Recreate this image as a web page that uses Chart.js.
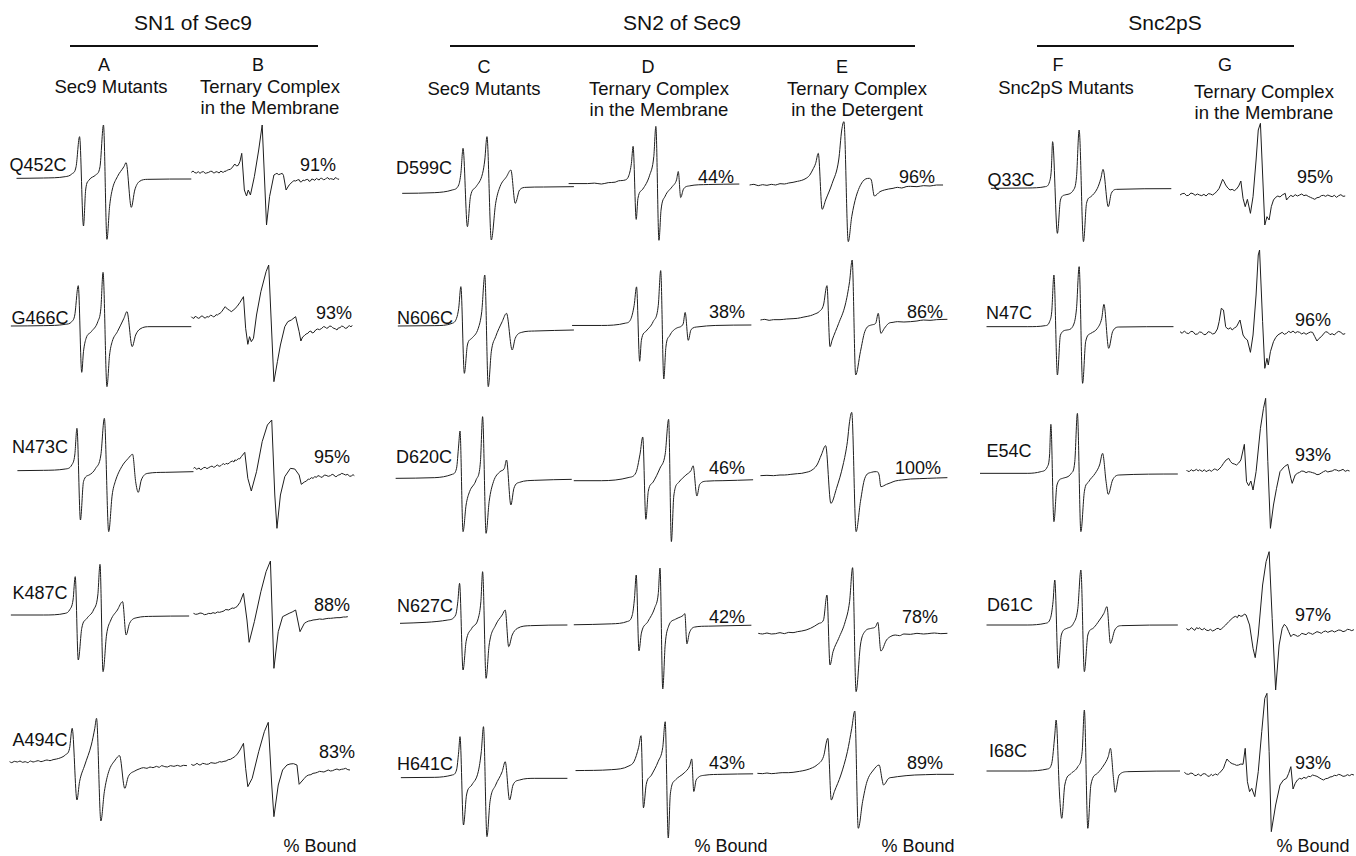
<!DOCTYPE html>
<html>
<head>
<meta charset="utf-8">
<title>EPR spectra of Sec9 and Snc2pS spin-labelled mutants</title>
<script src="https://cdn.jsdelivr.net/npm/chart.js@4.4.1/dist/chart.umd.min.js"></script>
<style>
  html, body { margin: 0; padding: 0; background: #fff; }
  #fig { position: relative; width: 1356px; height: 856px; overflow: hidden;
         font-family: "Liberation Sans", Arial, Helvetica, sans-serif; color: #111; }
  .t { position: absolute; transform: translate(-50%, -50%); white-space: nowrap; line-height: 1; }
  .rule { position: absolute; height: 2px; background: #111; }
  canvas.spec { position: absolute; }
</style>
</head>
<body>
<div id="fig"></div>
<script>
// ---------------- headings and labels ----------------
const groupTitles = ['SN1 of Sec9', 'SN2 of Sec9', 'Snc2pS'];
const panelLetters = ['A', 'B', 'C', 'D', 'E', 'F', 'G'];
const panelCaptions = [
  ['Sec9 Mutants'],
  ['Ternary Complex', 'in the Membrane'],
  ['Sec9 Mutants'],
  ['Ternary Complex', 'in the Membrane'],
  ['Ternary Complex', 'in the Detergent'],
  ['Snc2pS Mutants'],
  ['Ternary Complex', 'in the Membrane']
];
const sn1Mutants = ['Q452C', 'G466C', 'N473C', 'K487C', 'A494C'];
const sn2Mutants = ['D599C', 'N606C', 'D620C', 'N627C', 'H641C'];
const snc2Mutants = ['Q33C', 'N47C', 'E54C', 'D61C', 'I68C'];
const boundSN1Membrane = [91, 93, 95, 88, 83];
const boundSN2Membrane = [44, 38, 46, 42, 43];
const boundSN2Detergent = [96, 86, 100, 78, 89];
const boundSnc2Membrane = [95, 96, 93, 97, 93];
const boundCaption = '% Bound';

// ---------------- spectra: [field, derivative intensity] ----------------
// Column A: Sec9 SN1 mutants, free
const sn1_Q452C = [[38,-1],[100,0],[150,4],[165,12],[175,34],[183,124],[192,-144],[197,-36],[205,-6],[220,9],[230,34],[238,159],[246,-184],[252,-86],[258,-36],[270,4],[285,34],[290,46],[302,-88],[310,-36],[320,-11],[340,-4],[440,-3]];
const sn1_G466C = [[25,-3],[100,-2],[150,2],[165,10],[172,30],[180,118],[188,-142],[192,-80],[198,-40],[210,-20],[225,10],[232,50],[237,158],[246,-185],[252,-90],[258,-50],[270,-20],[285,20],[292,40],[304,-65],[312,-30],[322,-12],[345,-5],[440,-5]];
const sn1_N473C = [[40,-2],[100,-1],[150,3],[165,15],[172,45],[177,125],[185,-150],[192,-35],[205,-15],[220,5],[232,45],[240,155],[250,-185],[258,-75],[265,-35],[280,10],[295,35],[305,47],[312,-35],[318,-67],[325,-30],[340,-10],[380,-7],[445,-5]];
const sn1_K487C = [[25,0],[100,0],[150,5],[160,15],[168,45],[173,115],[180,-135],[188,-40],[200,-10],[215,15],[225,60],[230,152],[237,-170],[245,-60],[255,-15],[270,15],[282,40],[290,-60],[298,-25],[315,-8],[350,-4],[435,-3]];
const sn1_A494C = [[22,10],[27,7],[33,11],[40,9],[46,12],[52,8],[58,10],[64,7],[70,12],[76,9],[82,11],[88,13],[94,10],[100,12],[108,15],[115,13],[122,16],[130,18],[140,22],[150,30],[160,50],[166,110],[177,-105],[183,-50],[195,0],[210,60],[218,110],[222,140],[232,-168],[240,-80],[250,-20],[265,15],[275,28],[287,-70],[295,-35],[310,-18],[320,-12],[330,-8],[338,-10],[345,-6],[352,-8],[360,-4],[366,-7],[372,-2],[379,-5],[385,-6],[392,-2],[400,-4],[408,-1],[415,-4],[422,-1],[430,-2]];

// Column B: SN1 mutants in the ternary complex, membrane
const tm_Q452C = [[440,17],[444,21],[448,16],[452,15],[456,19],[460,14],[464,18],[468,19],[472,14],[475,15],[480,17],[484,20],[488,20],[491,15],[494,16],[497,19],[500,18],[504,15],[508,21],[511,18],[514,17],[517,21],[520,20],[523,24],[526,25],[530,26],[535,33],[540,42],[544,36],[548,38],[552,50],[556,74],[562,-36],[567,-54],[571,-36],[576,-51],[585,4],[595,84],[603,159],[613,-141],[620,-56],[630,9],[634,12],[637,14],[641,10],[645,12],[649,14],[652,8],[658,-36],[665,-21],[672,-12],[676,-8],[680,-9],[684,-6],[688,-5],[691,-12],[694,-11],[697,-6],[700,-8],[704,-5],[708,-4],[711,-10],[714,-9],[717,-3],[720,-4],[724,-7],[728,-1],[731,-4],[734,-6],[737,-1],[740,-1],[744,-5],[748,-4],[751,0],[754,1],[757,-4],[760,-2],[764,-3],[768,-5],[771,1],[774,0],[777,-4],[780,-3]];
const tm_G466C = [[440,25],[443,21],[446,20],[449,26],[452,24],[456,20],[460,22],[463,27],[466,27],[469,22],[472,21],[476,25],[480,24],[484,29],[488,28],[491,24],[494,26],[497,31],[500,30],[503,33],[506,35],[510,40],[514,48],[518,55],[523,48],[528,44],[532,40],[538,46],[545,55],[552,68],[560,85],[565,-10],[570,-58],[574,-35],[578,-50],[583,-40],[590,30],[600,100],[612,160],[618,180],[630,-170],[638,-110],[645,-60],[655,-5],[662,10],[670,15],[680,25],[688,-20],[692,-48],[696,-36],[700,-32],[704,-27],[708,-25],[711,-20],[715,-18],[718,-24],[722,-22],[726,-15],[730,-12],[735,-14],[740,-10],[744,-5],[748,-6],[751,-10],[755,-8],[758,-3],[762,-4],[765,-8],[768,-10],[772,-12],[775,-15],[778,-9],[782,-8],[786,-3],[790,-5],[794,-10],[798,-9],[801,-4],[804,-2],[807,-6],[810,-1]];
const tm_N473C = [[445,5],[448,8],[452,2],[455,4],[458,6],[461,1],[465,3],[468,7],[472,8],[476,4],[480,7],[484,10],[488,12],[491,8],[494,9],[497,13],[500,15],[504,11],[508,13],[511,17],[514,19],[517,16],[520,20],[524,18],[528,22],[531,25],[535,27],[538,24],[540,30],[544,29],[548,34],[551,33],[555,40],[563,53],[570,-25],[578,-63],[590,-5],[603,85],[615,135],[625,150],[632,-75],[637,-175],[645,-75],[655,-20],[668,5],[678,3],[688,-15],[693,-43],[700,-36],[705,-33],[709,-27],[712,-28],[716,-23],[720,-25],[724,-20],[728,-22],[731,-17],[735,-18],[738,-22],[742,-21],[746,-15],[750,-16],[755,-19],[760,-17],[764,-13],[768,-15],[771,-20],[775,-19],[778,-15],[782,-14],[786,-10],[790,-12],[795,-15],[800,-13],[804,-19],[808,-18],[812,-14],[815,-17]];
const tm_K487C = [[445,5],[450,2],[455,3],[460,6],[465,5],[470,1],[475,2],[480,5],[485,4],[490,7],[495,5],[500,9],[505,8],[510,10],[515,12],[518,16],[522,16],[526,15],[530,18],[534,21],[538,20],[542,23],[545,25],[552,38],[560,65],[568,-15],[573,-82],[585,-20],[600,70],[612,130],[622,162],[630,-160],[640,-50],[650,-5],[665,5],[672,9],[680,15],[687,-30],[690,-50],[700,-25],[705,-21],[710,-18],[715,-17],[720,-15],[727,-14],[735,-12],[742,-13],[750,-11],[755,-10],[760,-10],[767,-9],[775,-8],[782,-8],[790,-6],[795,-6],[800,-5]];
const tm_A494C = [[440,2],[444,-1],[448,0],[451,4],[455,4],[458,0],[462,1],[466,5],[470,4],[475,2],[480,3],[485,7],[490,6],[495,5],[500,7],[505,10],[510,9],[515,11],[520,12],[525,16],[530,17],[535,21],[540,25],[546,33],[552,45],[560,65],[565,-10],[570,-65],[580,-40],[595,40],[608,100],[617,128],[625,-60],[630,-155],[640,-60],[650,-15],[660,0],[667,3],[675,4],[683,0],[688,-58],[700,-40],[705,-33],[710,-30],[715,-29],[720,-25],[725,-24],[730,-22],[735,-19],[740,-20],[745,-21],[750,-18],[755,-15],[760,-18],[765,-17],[770,-14],[775,-12],[780,-15],[785,-13],[790,-12],[795,-10],[800,-14],[805,-15]];

// Column C: Sec9 SN2 mutants, free
const sn2_D599C = [[925,-46],[1000,-44],[1040,-36],[1055,-21],[1060,14],[1065,89],[1075,-146],[1082,-56],[1095,-26],[1110,14],[1115,54],[1120,124],[1130,-186],[1140,-76],[1150,-26],[1165,4],[1175,24],[1185,-76],[1195,-36],[1210,-28],[1250,-27],[1320,-26]];
const sn2_N606C = [[915,-3],[1000,-2],[1040,5],[1050,20],[1055,50],[1060,115],[1068,-145],[1075,-60],[1085,-40],[1100,-10],[1108,40],[1115,150],[1123,-185],[1130,-80],[1140,-35],[1155,10],[1165,35],[1178,-75],[1185,-40],[1200,-22],[1230,-18],[1320,-15]];
const sn2_D620C = [[910,-25],[1000,-23],[1040,-13],[1050,5],[1055,75],[1058,117],[1065,-185],[1072,-105],[1080,-65],[1095,-30],[1105,25],[1110,160],[1118,-190],[1125,-95],[1135,-35],[1150,-5],[1160,5],[1165,30],[1175,-105],[1182,-55],[1195,-37],[1230,-31],[1315,-28]];
const sn2_N627C = [[920,-25],[980,-22],[1030,-15],[1048,0],[1053,40],[1057,95],[1065,-165],[1072,-80],[1085,-40],[1100,-10],[1106,40],[1110,130],[1118,-190],[1125,-90],[1140,-30],[1155,0],[1162,15],[1170,-95],[1178,-60],[1190,-40],[1220,-32],[1305,-30]];
const sn2_H641C = [[922,-38],[1000,-37],[1040,-30],[1050,-15],[1055,40],[1058,85],[1066,-180],[1073,-90],[1085,-60],[1100,-20],[1107,40],[1112,115],[1120,-215],[1127,-110],[1140,-60],[1155,-20],[1162,10],[1172,-105],[1180,-60],[1195,-45],[1230,-40],[1305,-40]];

// Column D: SN2 mutants in the ternary complex, membrane
const tmSN2_D599C = [[25,-12],[80,-12],[100,-11],[120,-13],[140,-10],[160,-9],[170,-6],[190,-4],[200,6],[207,31],[212,68],[221,-89],[226,-44],[240,-24],[260,6],[272,46],[278,111],[287,-134],[293,-69],[305,-39],[325,-19],[338,-4],[343,14],[350,-42],[358,-24],[375,-17],[430,-14],[520,-13]];
const tmSN2_N606C = [[35,-1],[120,-1],[190,4],[205,12],[215,42],[222,82],[231,-78],[236,-33],[250,-13],[270,7],[285,42],[292,117],[301,-116],[307,-48],[318,-23],[340,-6],[357,2],[363,27],[372,-33],[380,-10],[400,-4],[450,-1],[555,0]];
const tmSN2_D620C = [[40,-23],[120,-23],[200,-16],[220,-6],[232,34],[240,71],[249,-106],[256,-46],[270,-26],[290,4],[305,34],[315,109],[323,-154],[330,-56],[345,-26],[365,-11],[380,-1],[386,9],[397,-56],[405,-31],[425,-24],[470,-23],[560,-21]];
const tmSN2_N627C = [[40,-21],[150,-19],[195,-14],[210,1],[216,36],[221,86],[229,-77],[236,-39],[255,-14],[275,16],[285,46],[290,101],[298,-159],[305,-64],[315,-24],[335,-9],[350,-4],[357,-1],[362,3],[368,-62],[375,-39],[390,-26],[430,-24],[555,-22]];
const tmSN2_H641C = [[45,-12],[150,-10],[200,-2],[215,8],[228,38],[235,63],[242,-92],[250,-42],[265,-22],[285,8],[298,38],[305,93],[314,-157],[320,-62],[335,-32],[360,-17],[376,-2],[382,13],[388,-57],[395,-32],[420,-22],[470,-20],[560,-19]];

// Column E: SN2 mutants in the ternary complex, detergent
const tdSN2_D599C = [[160,-21],[170,-19],[180,-23],[190,-20],[200,-22],[210,-19],[220,-21],[230,-17],[240,-18],[250,-15],[260,-13],[270,-10],[280,-7],[290,-1],[298,8],[305,24],[312,44],[318,74],[327,-94],[335,-66],[350,-16],[365,54],[372,144],[377,169],[387,-191],[395,-116],[405,-56],[420,-11],[435,-1],[440,-6],[447,-54],[460,-41],[470,-36],[480,-33],[490,-31],[500,-28],[510,-30],[520,-26],[530,-25],[545,-26],[560,-23],[575,-24],[590,-21],[605,-21]];
const tdSN2_N606C = [[185,15],[195,17],[205,14],[215,16],[230,16],[245,18],[260,19],[270,20],[285,24],[300,28],[310,33],[320,40],[330,60],[338,118],[345,-65],[350,-45],[365,5],[380,60],[390,130],[396,195],[404,-150],[415,-80],[425,-20],[440,0],[450,5],[456,35],[462,-25],[470,-10],[480,5],[490,8],[500,10],[515,9],[530,10],[545,12],[560,15],[575,14],[590,16],[615,17]];
const tdSN2_D620C = [[185,-17],[200,-16],[215,-17],[230,-15],[240,-15],[255,-13],[270,-11],[280,-10],[290,-7],[300,-3],[315,15],[325,45],[335,73],[347,-100],[360,-55],[375,15],[385,85],[390,145],[395,173],[405,-185],[415,-95],[425,-25],[440,-7],[452,-5],[458,-15],[462,-50],[475,-43],[485,-38],[495,-33],[510,-30],[530,-27],[550,-26],[570,-25],[590,-24],[615,-23]];
const tdSN2_N627C = [[180,-55],[190,-57],[200,-54],[210,-57],[220,-56],[230,-53],[240,-56],[250,-52],[260,-53],[270,-50],[280,-48],[290,-45],[300,-40],[310,-33],[320,-25],[330,-15],[338,60],[345,-150],[352,-110],[365,-70],[380,-20],[390,40],[397,142],[405,-230],[415,-90],[425,-50],[440,-40],[450,-35],[455,-22],[462,-108],[475,-75],[485,-64],[495,-60],[505,-62],[515,-57],[530,-58],[545,-55],[560,-57],[570,-56],[585,-54],[600,-56],[615,-55]];
const tdSN2_H641C = [[178,-25],[190,-26],[200,-24],[210,-26],[220,-25],[235,-23],[250,-23],[260,-22],[275,-19],[290,-15],[305,-8],[315,0],[330,25],[340,80],[348,-105],[355,-80],[370,-30],[385,40],[395,110],[402,162],[410,-190],[420,-110],[430,-50],[445,-15],[458,0],[465,-45],[468,-60],[480,-40],[490,-37],[500,-35],[520,-32],[540,-30],[565,-29],[590,-28],[630,-28]];

// Column F: Snc2pS mutants, free
const snc_Q33C = [[715,-31],[800,-30],[840,-26],[850,-11],[854,24],[857,109],[868,-166],[875,-66],[885,-51],[905,-36],[912,4],[918,144],[928,-191],[935,-76],[945,-56],[960,-31],[968,-1],[973,26],[985,-86],[992,-46],[1005,-34],[1130,-32]];
const snc_N47C = [[705,-5],[800,-5],[840,-2],[850,10],[855,40],[860,150],[868,-150],[875,-30],[890,-15],[905,0],[912,50],[918,175],[926,-175],[933,-50],[945,-25],[960,-10],[970,20],[975,62],[986,-70],[995,-20],[1010,-6],[1135,-5]];
const snc_E54C = [[690,-10],[800,-10],[830,-5],[845,10],[850,45],[853,137],[860,-155],[867,-45],[880,-25],[900,-10],[908,25],[914,170],[922,-185],[930,-65],[940,-35],[955,-10],[965,15],[972,50],[980,-35],[985,-73],[995,-30],[1010,-15],[1145,-12]];
const snc_D61C = [[705,-30],[800,-30],[840,-25],[852,-10],[858,40],[862,105],[870,-160],[877,-60],[890,-40],[905,-25],[915,20],[922,135],[930,-170],[938,-60],[950,-40],[965,-15],[975,5],[982,25],[990,-85],[1000,-45],[1015,-32],[1145,-30]];
const snc_I68C = [[705,-18],[800,-18],[845,-12],[855,5],[862,90],[865,135],[873,-90],[878,-160],[885,-60],[900,-25],[915,-5],[925,40],[930,165],[938,-190],[945,-60],[960,-25],[975,0],[985,25],[990,50],[997,-40],[1001,-82],[1010,-30],[1030,-20],[1160,-18]];

// Column G: Snc2pS mutants in the ternary complex, membrane
const tmSnc_Q33C = [[1150,-51],[1155,-47],[1160,-46],[1165,-53],[1170,-52],[1175,-45],[1180,-47],[1185,-52],[1190,-48],[1195,-51],[1200,-53],[1205,-49],[1210,-54],[1215,-47],[1220,-48],[1225,-51],[1230,-46],[1235,-40],[1240,-31],[1244,-18],[1248,-4],[1251,-10],[1255,-21],[1260,-30],[1265,-36],[1270,-34],[1275,-38],[1280,-33],[1285,-24],[1290,-9],[1295,-61],[1300,-86],[1305,-64],[1312,-106],[1318,-56],[1325,54],[1330,144],[1335,164],[1345,-141],[1350,-116],[1355,-126],[1360,-86],[1365,-66],[1370,-58],[1375,-54],[1380,-57],[1385,-51],[1392,-46],[1395,-66],[1400,-58],[1405,-52],[1410,-56],[1415,-50],[1420,-54],[1425,-51],[1430,-48],[1435,-53],[1440,-51],[1445,-55],[1450,-58],[1455,-61],[1460,-64],[1465,-59],[1470,-58],[1475,-53],[1480,-52],[1485,-55],[1490,-51],[1495,-54],[1500,-56],[1505,-52],[1510,-58],[1515,-53],[1520,-50],[1525,-55],[1530,-54]];
const tmSnc_N47C = [[1150,-20],[1155,-25],[1160,-18],[1165,-24],[1170,-26],[1175,-19],[1180,-20],[1185,-28],[1190,-27],[1195,-21],[1200,-22],[1205,-29],[1210,-28],[1215,-20],[1220,-22],[1225,-27],[1230,-25],[1236,-12],[1240,10],[1245,50],[1250,45],[1255,-5],[1258,-10],[1262,-12],[1266,-8],[1270,-15],[1275,-9],[1280,-5],[1288,15],[1295,-30],[1300,-40],[1305,-45],[1312,-82],[1318,-30],[1325,90],[1330,210],[1333,225],[1340,10],[1345,-130],[1350,-100],[1353,-120],[1358,-80],[1365,-50],[1370,-38],[1375,-30],[1380,-26],[1385,-22],[1390,-28],[1395,-25],[1400,-19],[1405,-23],[1410,-18],[1415,-24],[1420,-20],[1425,-22],[1430,-27],[1435,-23],[1440,-28],[1445,-24],[1450,-21],[1455,-22],[1460,-35],[1465,-48],[1470,-40],[1475,-35],[1480,-27],[1485,-20],[1490,-22],[1495,-29],[1500,-26],[1505,-30],[1510,-23],[1515,-19],[1520,-22],[1525,-28],[1530,-26]];
const tmSnc_E54C = [[1165,0],[1168,-4],[1172,-4],[1176,1],[1180,-3],[1184,-1],[1188,2],[1192,-3],[1195,1],[1198,-2],[1202,-4],[1206,1],[1210,-5],[1214,-2],[1218,0],[1222,-4],[1225,-1],[1229,3],[1232,2],[1236,-1],[1240,3],[1245,10],[1250,20],[1256,30],[1262,35],[1266,26],[1270,20],[1275,18],[1280,15],[1285,21],[1290,30],[1298,77],[1303,-35],[1308,-47],[1313,-33],[1318,-60],[1325,-5],[1335,125],[1342,185],[1347,215],[1352,25],[1358,-175],[1365,-105],[1372,-55],[1380,-5],[1390,10],[1398,17],[1405,-25],[1408,-40],[1415,-15],[1420,-10],[1425,-7],[1430,-3],[1435,-4],[1440,-8],[1445,-5],[1450,-6],[1455,-8],[1460,-10],[1465,-14],[1470,-13],[1475,-9],[1480,-5],[1485,-2],[1490,-6],[1495,-4],[1500,-3],[1505,1],[1510,0],[1515,-3],[1520,-1],[1525,2],[1530,-4],[1535,-1],[1540,-3]];
const tmSnc_D61C = [[1165,-40],[1168,-45],[1172,-44],[1176,-38],[1180,-42],[1184,-46],[1188,-38],[1192,-41],[1195,-38],[1198,-43],[1202,-44],[1206,-40],[1210,-45],[1215,-47],[1220,-43],[1225,-48],[1230,-45],[1234,-41],[1238,-40],[1242,-44],[1245,-42],[1250,-36],[1255,-30],[1262,-20],[1270,-10],[1274,-6],[1278,-4],[1282,-8],[1285,0],[1290,-4],[1295,-2],[1298,3],[1302,0],[1310,-30],[1318,-100],[1323,-128],[1330,-60],[1340,90],[1348,160],[1355,190],[1362,-10],[1370,-225],[1378,-90],[1385,-40],[1390,-28],[1395,-35],[1400,-50],[1405,-65],[1410,-58],[1415,-60],[1420,-64],[1425,-62],[1430,-55],[1435,-57],[1440,-59],[1445,-53],[1450,-55],[1455,-58],[1460,-54],[1465,-50],[1470,-52],[1475,-55],[1480,-50],[1485,-48],[1490,-52],[1495,-49],[1500,-47],[1505,-51],[1510,-48],[1515,-45],[1520,-46],[1525,-50],[1530,-48],[1535,-43],[1540,-44],[1545,-47],[1550,-44]];
const tmSnc_I68C = [[1160,-22],[1165,-27],[1170,-28],[1175,-24],[1180,-26],[1184,-32],[1188,-31],[1192,-27],[1195,-30],[1198,-33],[1202,-27],[1206,-26],[1210,-28],[1214,-34],[1218,-33],[1222,-28],[1225,-32],[1229,-29],[1232,-27],[1236,-30],[1240,-25],[1245,-18],[1250,-10],[1254,5],[1258,18],[1262,12],[1265,8],[1270,4],[1275,2],[1280,-1],[1285,0],[1290,3],[1295,2],[1300,50],[1305,-50],[1310,-80],[1315,-70],[1322,-95],[1330,-20],[1338,100],[1345,200],[1350,215],[1355,40],[1360,-200],[1370,-120],[1380,-60],[1388,-45],[1395,-40],[1400,-25],[1405,-5],[1410,-72],[1415,-55],[1420,-45],[1425,-40],[1430,-42],[1435,-37],[1440,-40],[1445,-34],[1450,-35],[1455,-30],[1460,-32],[1465,-34],[1470,-38],[1475,-42],[1480,-45],[1485,-41],[1490,-40],[1495,-36],[1500,-35],[1505,-31],[1510,-32],[1515,-28],[1520,-30],[1525,-34],[1530,-33],[1535,-29],[1540,-32],[1545,-28],[1550,-30]];

// ---------------- layout ----------------
// Each column: canvas box in page pixels, field / intensity calibration of its axes,
// and whether the trace is a noisy complex spectrum (drawn point-to-point).
const columnLayout = [
  { left: 5,    width: 190, fieldZero: 0,   fieldPerPx: 2.3, intPerPx: 3,    jagged: false }, // A
  { left: 185,  width: 175, fieldZero: 0,   fieldPerPx: 2.3, intPerPx: 3,    jagged: true  }, // B
  { left: 385,  width: 195, fieldZero: 0,   fieldPerPx: 2.3, intPerPx: 3,    jagged: false }, // C
  { left: 562,  width: 195, fieldZero: 560, fieldPerPx: 2.9, intPerPx: 2.15, jagged: false }, // D
  { left: 745,  width: 215, fieldZero: 680, fieldPerPx: 2.3, intPerPx: 3,    jagged: false }, // E
  { left: 980,  width: 200, fieldZero: 680, fieldPerPx: 2.3, intPerPx: 3,    jagged: false }, // F
  { left: 1170, width: 186, fieldZero: 680, fieldPerPx: 2.3, intPerPx: 3,    jagged: true  }  // G
];
const rowZeroY = [178, 325, 470, 615, 765];
const canvasHalfHeight = 140;

const spectraByColumn = [
  [sn1_Q452C, sn1_G466C, sn1_N473C, sn1_K487C, sn1_A494C],
  [tm_Q452C, tm_G466C, tm_N473C, tm_K487C, tm_A494C],
  [sn2_D599C, sn2_N606C, sn2_D620C, sn2_N627C, sn2_H641C],
  [tmSN2_D599C, tmSN2_N606C, tmSN2_D620C, tmSN2_N627C, tmSN2_H641C],
  [tdSN2_D599C, tdSN2_N606C, tdSN2_D620C, tdSN2_N627C, tdSN2_H641C],
  [snc_Q33C, snc_N47C, snc_E54C, snc_D61C, snc_I68C],
  [tmSnc_Q33C, tmSnc_N47C, tmSnc_E54C, tmSnc_D61C, tmSnc_I68C]
];

const fig = document.getElementById('fig');

function addText(str, x, y, size) {
  const d = document.createElement('div');
  d.className = 't';
  d.textContent = str;
  d.style.left = x + 'px';
  d.style.top = y + 'px';
  d.style.fontSize = size + 'px';
  fig.appendChild(d);
}
function addRule(x1, x2, y) {
  const r = document.createElement('div');
  r.className = 'rule';
  r.style.left = x1 + 'px';
  r.style.width = (x2 - x1) + 'px';
  r.style.top = y + 'px';
  fig.appendChild(r);
}

// group headings with their rules
const titlePos = [[193, 22], [682, 22], [1165, 22]];
const rulePos = [[70, 318, 45], [450, 915, 45], [1037, 1294, 45]];
groupTitles.forEach((s, i) => {
  addText(s, titlePos[i][0], titlePos[i][1], 21);
  addRule(rulePos[i][0], rulePos[i][1], rulePos[i][2]);
});

// panel letters and captions
const letterPos = [[104, 65], [258, 65], [484, 67], [648, 67], [842, 67], [1058, 65], [1225, 65]];
const captionPos = [[111, 87], [270, 87], [484, 89], [659, 89], [857, 89], [1066, 88], [1264, 92]];
panelLetters.forEach((s, i) => {
  addText(s, letterPos[i][0], letterPos[i][1], 18);
  panelCaptions[i].forEach((line, k) => addText(line, captionPos[i][0], captionPos[i][1] + 21 * k, 18.5));
});

// mutant names at the left of each row
const sn1LabelPos = [[38, 165], [40, 318], [40, 447], [40, 593], [40, 740]];
const sn2LabelPos = [[424, 168], [425, 318], [424, 457], [425, 606], [425, 764]];
const snc2LabelPos = [[1011, 180], [1009, 313], [1009, 451], [1010, 605], [1008, 751]];
sn1Mutants.forEach((s, i) => addText(s, sn1LabelPos[i][0], sn1LabelPos[i][1], 18));
sn2Mutants.forEach((s, i) => addText(s, sn2LabelPos[i][0], sn2LabelPos[i][1], 18));
snc2Mutants.forEach((s, i) => addText(s, snc2LabelPos[i][0], snc2LabelPos[i][1], 18));

// fraction bound next to each complex spectrum
const boundSN1Pos = [[318, 165], [334, 313], [332, 457], [332, 605], [337, 752]];
const boundDPos = [[716, 177], [727, 312], [727, 468], [727, 617], [727, 763]];
const boundEPos = [[917, 177], [925, 312], [918, 468], [920, 617], [925, 763]];
const boundGPos = [[1315, 177], [1313, 320], [1313, 455], [1313, 615], [1313, 763]];
boundSN1Membrane.forEach((v, i) => addText(v + '%', boundSN1Pos[i][0], boundSN1Pos[i][1], 18));
boundSN2Membrane.forEach((v, i) => addText(v + '%', boundDPos[i][0], boundDPos[i][1], 18));
boundSN2Detergent.forEach((v, i) => addText(v + '%', boundEPos[i][0], boundEPos[i][1], 18));
boundSnc2Membrane.forEach((v, i) => addText(v + '%', boundGPos[i][0], boundGPos[i][1], 18));
[[320, 846], [731, 846], [918, 846], [1313, 846]].forEach(p => addText(boundCaption, p[0], p[1], 18));

// ---------------- spectra ----------------
function drawSpectrum(colIdx, rowIdx, pts) {
  const c = columnLayout[colIdx];
  const zero = rowZeroY[rowIdx];
  const h = canvasHalfHeight * 2;
  const cv = document.createElement('canvas');
  cv.className = 'spec';
  cv.width = c.width; cv.height = h;
  cv.style.width = c.width + 'px'; cv.style.height = h + 'px';
  cv.style.left = c.left + 'px';
  cv.style.top = (zero - canvasHalfHeight) + 'px';
  fig.appendChild(cv);
  const dataset = {
    data: pts.map(([f, v]) => ({ x: f, y: v })),
    borderColor: '#1e1e1e',
    borderWidth: 1,
    pointRadius: 0,
    fill: false,
    clip: false
  };
  if (c.jagged) dataset.tension = 0;
  else dataset.cubicInterpolationMode = 'monotone';
  new Chart(cv.getContext('2d'), {
    type: 'line',
    data: { datasets: [dataset] },
    options: {
      responsive: false,
      animation: false,
      events: [],
      devicePixelRatio: 1,
      layout: { padding: 0 },
      plugins: { legend: { display: false }, tooltip: { enabled: false } },
      scales: {
        x: { type: 'linear', display: false,
             min: (c.left - c.fieldZero) * c.fieldPerPx,
             max: (c.left + c.width - c.fieldZero) * c.fieldPerPx },
        y: { type: 'linear', display: false,
             min: -canvasHalfHeight * c.intPerPx,
             max: canvasHalfHeight * c.intPerPx }
      }
    }
  });
}

spectraByColumn.forEach((col, ci) => col.forEach((pts, ri) => drawSpectrum(ci, ri, pts)));
</script>
</body>
</html>
